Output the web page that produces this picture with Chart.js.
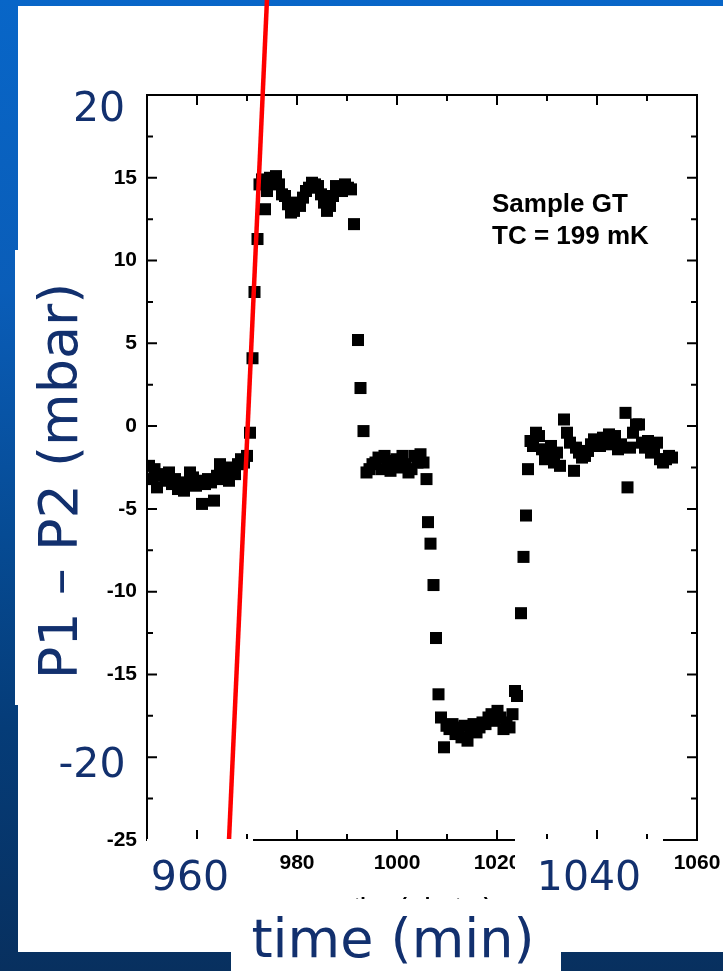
<!DOCTYPE html>
<html>
<head>
<meta charset="utf-8">
<script src="https://cdn.jsdelivr.net/npm/chart.js@4.4.0/dist/chart.umd.min.js"></script>
<style>
  html, body { margin: 0; padding: 0; }
  body {
    width: 723px; height: 971px; position: relative; overflow: hidden;
    background: linear-gradient(to bottom, #0866c8 0%, #0a5db8 30%, #064b94 55%, #053c78 75%, #08305f 100%);
  }
  .white { position: absolute; background: #fff; }
  #chartBox { position: absolute; left: 0; top: 0; width: 723px; height: 971px; }
  .big {
    position: absolute; color: #12306e; font-family: "DejaVu Sans", sans-serif;
    line-height: 1; text-align: center; white-space: nowrap;
  }
  .note {
    position: absolute; color: #000; font-family: "Liberation Sans", Arial, sans-serif;
    font-weight: bold; font-size: 26px; line-height: 26px; white-space: nowrap;
  }
</style>
</head>
<body>
<!-- slide panel -->
<div class="white" style="left:18px;top:6px;width:705px;height:946px;"></div>
<div class="white" style="left:15px;top:250px;width:85px;height:455px;"></div>

<div id="chartBox"><canvas id="pressureChart" width="723" height="971"></canvas></div>

<!-- sample note -->
<div class="note" style="left:492px;top:190px;">Sample GT</div>
<div class="note" style="left:492px;top:222px;">TC = 199 mK</div>

<!-- white boxes of the slide labels, laid over the chart -->
<div class="white" style="left:100px;top:846px;width:153px;height:59px;"></div>
<div class="white" style="left:147px;top:839px;width:106px;height:8px;"></div>
<div class="white" style="left:515px;top:839px;width:148px;height:66px;"></div>
<div class="white" style="left:231px;top:899px;width:330px;height:72px;"></div>

<!-- big slide labels -->
<div class="big" style="left:-1px;top:87px;width:200px;font-size:41px;">20</div>
<div class="big" style="left:-8px;top:743px;width:200px;font-size:41px;">-20</div>
<div class="big" style="left:90px;top:856px;width:200px;font-size:41px;">960</div>
<div class="big" style="left:489px;top:856px;width:200px;font-size:41px;">1040</div>
<div class="big" style="left:143px;top:912px;width:500px;font-size:54px;">time (min)</div>
<div class="big" style="left:-191px;top:454px;width:500px;height:54px;font-size:54px;transform:rotate(-90deg);">P1 – P2 (mbar)</div>

<script>
// measured points
const timeMin = [
  950.4, 951.0, 951.5, 952.0, 952.6, 953.2, 953.8, 954.4, 955.0, 955.6,
  956.2, 956.8, 957.4, 958.0, 958.6, 959.2, 959.8, 960.4, 961.0, 961.6,
  962.2, 962.8, 963.4, 964.0, 964.6, 965.2, 965.8, 966.4, 967.0, 967.6,
  968.2, 968.8, 969.4, 970.0, 970.6, 971.1, 971.5, 972.1, 972.5, 973.0,
  973.6, 974.0, 974.6, 975.2, 975.8, 976.4, 977.0, 977.6, 978.2, 978.8,
  979.4, 980.0, 980.6, 981.2, 981.8, 982.4, 983.0, 983.6, 984.2, 984.8,
  985.4, 986.0, 986.6, 987.2, 987.8, 988.4, 989.0, 989.6, 990.2, 990.8,
  991.4, 992.2, 992.7, 993.3, 993.9, 994.5, 995.1, 995.7, 996.3, 996.9,
  997.5, 998.1, 998.7, 999.3, 999.9, 1000.5, 1001.1, 1001.7, 1002.3, 1002.9,
  1003.5, 1004.1, 1004.7, 1005.3, 1005.9, 1006.2, 1006.7, 1007.3, 1007.8, 1008.3,
  1008.8, 1009.4, 1009.9, 1010.5, 1011.1, 1011.7, 1012.3, 1012.9, 1013.5, 1014.1,
  1014.7, 1015.3, 1015.9, 1016.5, 1017.1, 1017.7, 1018.3, 1018.9, 1019.5, 1020.1,
  1020.7, 1021.3, 1021.9, 1022.5, 1023.1, 1023.6, 1024.0, 1024.8, 1025.3, 1025.8,
  1026.2, 1026.7, 1027.2, 1027.8, 1028.4, 1029.0, 1029.6, 1030.2, 1030.8, 1031.4,
  1032.0, 1032.6, 1033.4, 1034.0, 1034.6, 1035.4, 1035.8, 1036.4, 1037.0, 1037.6,
  1038.2, 1038.8, 1039.4, 1040.0, 1040.6, 1041.2, 1041.8, 1042.4, 1043.0, 1043.6,
  1044.2, 1044.8, 1045.7, 1046.1, 1046.6, 1047.2, 1047.8, 1048.4, 1049.0, 1049.6,
  1050.2, 1050.8, 1051.4, 1052.0, 1052.6, 1053.2, 1053.8, 1054.4, 1055.0
];
const deltaP = [
  -2.4, -3.2, -2.6, -3.7, -2.9, -3.0, -3.3, -2.8, -3.5, -3.2,
  -3.8, -3.6, -3.9, -3.4, -2.8, -3.1, -3.6, -3.3, -4.7, -3.5,
  -3.2, -3.4, -4.5, -3.0, -2.3, -3.2, -2.7, -3.3, -2.5, -2.9,
  -2.3, -2.0, -2.2, -1.8, -0.4, 4.1, 8.1, 11.3, 14.6, 14.9,
  13.1, 14.2, 15.0, 14.7, 15.1, 14.6, 14.0, 13.9, 13.4, 12.9,
  13.0, 13.5, 13.3, 13.8, 14.2, 14.4, 14.7, 14.6, 14.5, 14.0,
  13.5, 13.0, 13.3, 13.9, 14.5, 14.4, 14.2, 14.6, 14.4, 14.3,
  12.2, 5.2, 2.3, -0.3, -2.8, -2.6, -2.3, -2.2, -1.9, -2.6,
  -1.8, -2.1, -2.7, -2.3, -2.0, -2.5, -1.8, -2.3, -2.8, -2.6,
  -1.8, -2.2, -1.7, -2.2, -3.2, -5.8, -7.1, -9.6, -12.8, -16.2,
  -17.6, -19.4, -18.1, -18.3, -18.0, -18.6, -18.2, -18.8, -18.1, -19.0,
  -18.4, -18.0, -18.5, -18.2, -17.9, -18.0, -17.6, -17.4, -17.8, -17.2,
  -17.6, -18.3, -17.9, -18.2, -17.4, -16.0, -16.3, -11.3, -7.9, -5.4,
  -2.6, -0.9, -1.2, -0.4, -0.6, -1.4, -2.0, -1.5, -1.2, -2.2,
  -1.6, -2.4, 0.4, -0.4, -1.0, -2.7, -1.3, -1.6, -1.9, -1.8,
  -1.5, -1.1, -0.8, -1.0, -1.2, -0.7, -1.1, -0.5, -0.9, -0.6,
  -1.4, -1.1, 0.8, -3.7, -1.3, -0.4, 0.1, 0.1, -1.0, -1.3,
  -0.9, -1.6, -1.4, -1.0, -2.0, -2.2, -2.0, -1.8, -1.9
];

// red guide line drawn over the plot
const redLineX = [966.4, 974.0];
const redLineY = [-25, 25.8];

// axis ticks
const xMajorTicks = [960, 980, 1000, 1020, 1040, 1060];
const xMinorTicks = [950, 970, 990, 1010, 1030, 1050];
const yMajorTicks = [-25, -20, -15, -10, -5, 0, 5, 10, 15, 20];
const yMinorTicks = [-22.5, -17.5, -12.5, -7.5, -2.5, 2.5, 7.5, 12.5, 17.5];
const yHiddenLabels = [20, -20];

const tickFont = { family: "Liberation Sans", size: 21, weight: "bold" };

// frame with inward ticks on all four sides
const frameTicks = {
  id: "frameTicks",
  beforeDatasetsDraw(chart) {
    const { ctx, chartArea: a, scales: { x, y } } = chart;
    ctx.save();
    ctx.strokeStyle = "#000";
    ctx.lineWidth = 2;
    ctx.strokeRect(a.left, a.top, a.right - a.left, a.bottom - a.top);
    ctx.beginPath();
    const xMarks = (vals, len) => vals.forEach(v => {
      const px = x.getPixelForValue(v);
      ctx.moveTo(px, a.bottom); ctx.lineTo(px, a.bottom - len);
      ctx.moveTo(px, a.top); ctx.lineTo(px, a.top + len);
    });
    const yMarks = (vals, len) => vals.forEach(v => {
      const py = y.getPixelForValue(v);
      ctx.moveTo(a.left, py); ctx.lineTo(a.left + len, py);
      ctx.moveTo(a.right, py); ctx.lineTo(a.right - len, py);
    });
    xMarks(xMajorTicks, 10);
    xMarks(xMinorTicks, 6);
    yMarks(yMajorTicks, 10);
    yMarks(yMinorTicks, 6);
    ctx.stroke();
    ctx.restore();
  }
};

const ctx = document.getElementById("pressureChart").getContext("2d");
new Chart(ctx, {
  type: "scatter",
  data: {
    datasets: [
      {
        data: redLineX.map((x, i) => ({ x: x, y: redLineY[i] })),
        showLine: true,
        borderColor: "#ff0000",
        borderWidth: 4.5,
        pointRadius: 0,
        clip: false,
        order: 0
      },
      {
        data: timeMin.map((x, i) => ({ x: x, y: deltaP[i] })),
        pointStyle: "rect",
        pointRadius: 8.5,
        backgroundColor: "#000",
        borderWidth: 0,
        order: 1
      }
    ]
  },
  options: {
    responsive: false,
    animation: false,
    events: [],
    layout: { padding: { left: 0, top: 95, right: 26, bottom: 0 } },
    plugins: { legend: { display: false }, tooltip: { enabled: false } },
    scales: {
      x: {
        type: "linear",
        min: 950,
        max: 1060,
        afterBuildTicks: s => { s.ticks = xMajorTicks.map(v => ({ value: v })); },
        afterFit: s => { s.height = 131; s.paddingLeft = 0; s.paddingRight = 0; },
        grid: { display: false },
        border: { display: false },
        ticks: { padding: 3, color: "#000", font: tickFont, autoSkip: false, maxRotation: 0, callback: v => String(v) },
        title: {
          display: true,
          text: "time (minutes)",
          color: "#000",
          font: { family: "Liberation Sans", size: 20, weight: "bold" },
          padding: { top: 0, bottom: 53 }
        }
      },
      y: {
        min: -25,
        max: 20,
        afterBuildTicks: s => { s.ticks = yMajorTicks.map(v => ({ value: v })); },
        afterFit: s => { s.width = 147; s.paddingTop = 0; s.paddingBottom = 0; },
        grid: { display: false },
        border: { display: false },
        ticks: {
          padding: 2, color: "#000", font: tickFont, autoSkip: false,
          callback: v => yHiddenLabels.includes(v) ? "" : String(v)
        }
      }
    }
  },
  plugins: [frameTicks]
});
</script>
</body>
</html>
